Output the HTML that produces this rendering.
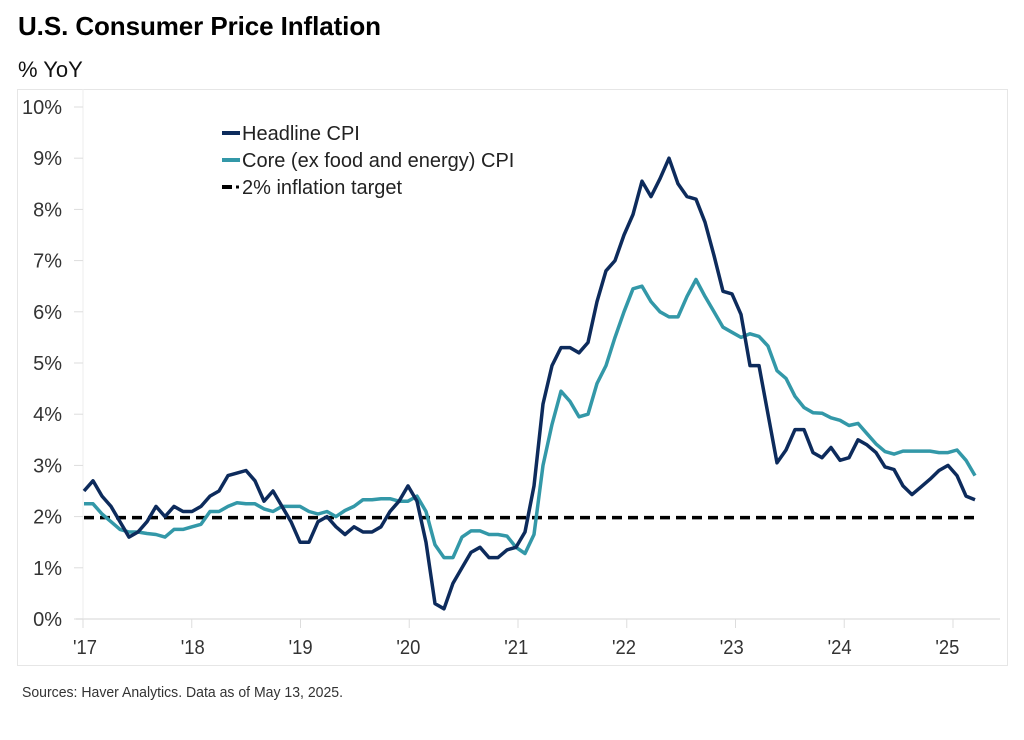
<!DOCTYPE html>
<html><head><meta charset="utf-8"><style>
body{margin:0;background:#fff;width:1024px;height:735px;overflow:hidden;font-family:"Liberation Sans",sans-serif}
</style></head><body>
<svg id="s" width="1024" height="735" xmlns="http://www.w3.org/2000/svg">
<text x="18" y="35" font-size="26" font-weight="bold" fill="#000" textLength="363">U.S. Consumer Price Inflation</text>
<text x="18" y="77" font-size="22" fill="#111">% YoY</text>
<rect x="17.5" y="89.5" width="990" height="576" fill="none" stroke="#e6e6e6"/>
<g id="ax" font-family="'Liberation Sans',sans-serif" font-size="20" fill="#333"></g>
<line x1="84" y1="517.6" x2="976" y2="517.6" stroke="#000" stroke-width="3.5" stroke-dasharray="10,6"/>
<polyline id="core" fill="none" stroke="#3398a8" stroke-width="3.5" stroke-linejoin="round"/>
<polyline id="head" fill="none" stroke="#0d2b5c" stroke-width="3.5" stroke-linejoin="round"/>
<g font-size="20" fill="#222">
<line x1="222" y1="133" x2="240" y2="133" stroke="#0d2b5c" stroke-width="4"/>
<text x="242" y="140">Headline CPI</text>
<line x1="222" y1="160" x2="240" y2="160" stroke="#3398a8" stroke-width="4"/>
<text x="242" y="167">Core (ex food and energy) CPI</text>
<line x1="222" y1="187" x2="232" y2="187" stroke="#000" stroke-width="4"/>
<line x1="236" y1="187" x2="239" y2="187" stroke="#000" stroke-width="3"/>
<text x="242" y="194">2% inflation target</text>
</g>
<text x="22" y="697" font-size="15" fill="#333" textLength="321" lengthAdjust="spacingAndGlyphs">Sources: Haver Analytics. Data as of May 13, 2025.</text>
</svg>
<script>
var H=[2.5,2.7,2.4,2.2,1.9,1.6,1.7,1.9,2.2,2.0,2.2,2.1,
2.1,2.2,2.4,2.5,2.8,2.85,2.9,2.7,2.3,2.5,2.2,1.9,
1.5,1.5,1.9,2.0,1.8,1.65,1.8,1.7,1.7,1.8,2.1,2.3,
2.6,2.3,1.5,0.3,0.2,0.7,1.0,1.3,1.4,1.2,1.2,1.35,
1.4,1.7,2.6,4.2,4.95,5.3,5.3,5.2,5.4,6.2,6.8,7.0,
7.5,7.9,8.55,8.25,8.6,9.0,8.5,8.25,8.2,7.75,7.1,6.4,
6.35,5.95,4.95,4.95,4.0,3.05,3.3,3.7,3.7,3.25,3.15,3.35,
3.1,3.15,3.5,3.4,3.25,2.97,2.92,2.6,2.43,2.58,2.73,2.9,
3.0,2.8,2.4,2.33];
var C=[2.25,2.25,2.05,1.9,1.75,1.7,1.7,1.67,1.65,1.6,1.75,1.75,
1.8,1.85,2.1,2.1,2.2,2.27,2.25,2.25,2.15,2.1,2.2,2.2,
2.2,2.1,2.05,2.1,2.0,2.12,2.2,2.33,2.33,2.35,2.35,2.3,
2.3,2.4,2.1,1.45,1.2,1.2,1.6,1.72,1.72,1.65,1.65,1.62,
1.4,1.28,1.65,3.0,3.8,4.45,4.25,3.95,4.0,4.6,4.95,5.5,
6.0,6.45,6.5,6.2,6.0,5.9,5.9,6.3,6.63,6.3,6.0,5.7,
5.6,5.5,5.57,5.52,5.33,4.85,4.7,4.35,4.13,4.03,4.02,3.93,
3.88,3.78,3.82,3.62,3.42,3.27,3.22,3.28,3.28,3.28,3.28,3.25,
3.25,3.3,3.1,2.8,2.78];
var dx=9.0;
function pts(a){return a.map(function(v,i){return (84+i*dx).toFixed(1)+','+(619-v*51.2).toFixed(1)}).join(' ')}
document.getElementById('head').setAttribute('points',pts(H));
document.getElementById('core').setAttribute('points',pts(C.slice(0,100)));
var ax=document.getElementById('ax'),s='';
s+='<line x1="83" y1="89" x2="83" y2="619" stroke="#eee"/>';
s+='<line x1="76" y1="619" x2="1000" y2="619" stroke="#e4e4e4" stroke-width="1.5"/>';
for(var k=0;k<=10;k++){var y=619-k*51.2;s+='<line x1="74" y1="'+y+'" x2="83" y2="'+y+'" stroke="#ddd"/><text x="62" y="'+(y+7)+'" text-anchor="end">'+k+'%</text>';}
for(var j=0;j<=8;j++){var x=83+j*108.75;var lx=85+j*107.8;s+='<line x1="'+x+'" y1="619" x2="'+x+'" y2="628" stroke="#ddd"/><text x="'+lx+'" y="654" text-anchor="middle" textLength="24" lengthAdjust="spacingAndGlyphs">\''+(17+j)+'</text>';}
ax.innerHTML=s;
</script>
</body></html>
